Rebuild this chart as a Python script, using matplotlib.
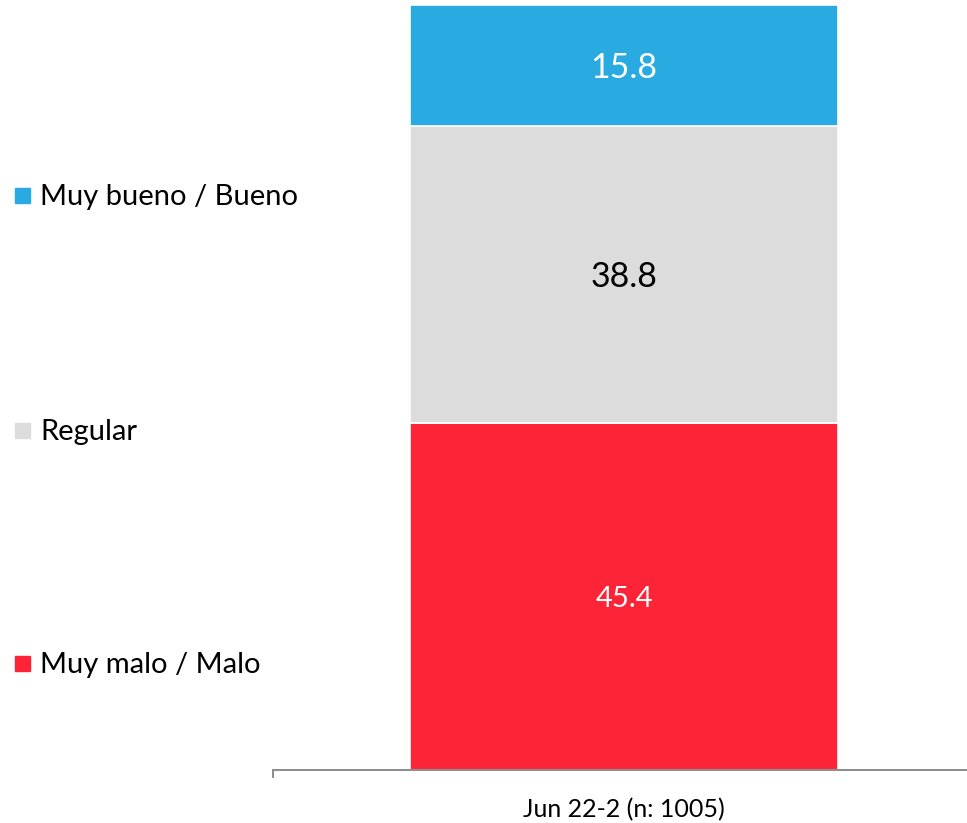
import matplotlib.pyplot as plt
from matplotlib.patches import Rectangle

# Datos
periodo = "Jun 22-2 (n: 1005)"
categorias = ["Muy malo / Malo", "Regular", "Muy bueno / Bueno"]
valores = [45.4, 38.8, 15.8]
colores = ["#FE2437", "#DCDCDC", "#29ABE2"]
colores_texto = ["white", "black", "white"]
tam_texto = [21, 24.5, 24.5]

plt.rcParams['font.family'] = ['Lato', 'DejaVu Sans']

fig = plt.figure(figsize=(9.67, 8.23), dpi=100)
ax = fig.add_axes([273 / 967, 53 / 823, 702 / 967, 765 / 823])

# Barra apilada
base = 0
for v, c, ct, fs in zip(valores, colores, colores_texto, tam_texto):
    ax.bar(0, v, bottom=base, width=0.61, color=c, edgecolor="white", linewidth=1.2)
    ax.text(0, base + v / 2, f"{v:.1f}", ha="center", va="center_baseline",
            color=ct, fontsize=fs)
    base += v

ax.set_xlim(-0.5, 0.5)
ax.set_ylim(0, 100)

# Ejes
for s in ["top", "right", "left"]:
    ax.spines[s].set_visible(False)
ax.spines["bottom"].set_color("#8C8C8C")
ax.spines["bottom"].set_linewidth(1.4)
ax.set_yticks([])
ax.set_xticks([0])
ax.set_xticklabels([periodo], fontsize=18)
ax.tick_params(axis="x", which="major", length=0, pad=20)
ax.set_xticks([-0.5, 0.5], minor=True)
ax.tick_params(axis="x", which="minor", length=6, width=1.4, color="#8C8C8C")

# Leyenda a la izquierda
pos_y = [663, 430, 195]
for cat, c, y in zip(categorias, colores, pos_y):
    fig.patches.append(Rectangle((15 / 967, 1 - (y + 8) / 823), 15 / 967, 15 / 823,
                                 transform=fig.transFigure, color=c))
    fig.text(40 / 967, 1 - (y + 2) / 823, cat, fontsize=21, va="center", ha="left")

fig.savefig("out.png", dpi=100)
